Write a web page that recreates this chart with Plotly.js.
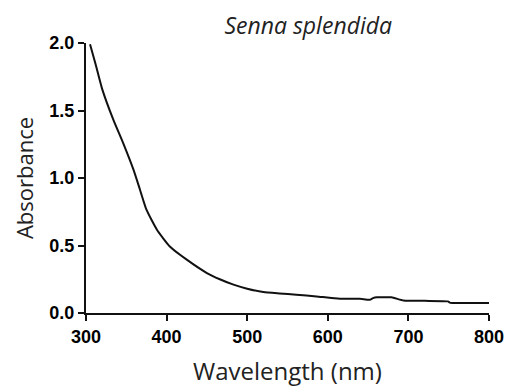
<!DOCTYPE html>
<html>
<head>
<meta charset="utf-8">
<script src="https://cdn.plot.ly/plotly-3.0.1.min.js"></script>
<style>html,body{margin:0;padding:0;background:#fff;}#chart{width:512px;height:392px;}</style>
</head>
<body>
<div id="chart"></div>
<script>
var wavelength = [305, 312, 320, 334, 346, 359, 367, 375, 388, 404, 425, 450, 466, 483, 500, 520, 540, 561, 586, 615, 640, 652, 656, 661, 679, 694, 720, 749, 752, 775, 800];
var absorbance = [1.99, 1.84, 1.66, 1.43, 1.26, 1.06, 0.913, 0.765, 0.617, 0.493, 0.395, 0.296, 0.25, 0.21, 0.18, 0.155, 0.145, 0.136, 0.123, 0.106, 0.105, 0.098, 0.11, 0.116, 0.116, 0.093, 0.09, 0.086, 0.075, 0.074, 0.074];
var xTicks = [300, 400, 500, 600, 700, 800];
var yTicks = [0, 0.5, 1, 1.5, 2];
var yTickText = ["0.0", "0.5", "1.0", "1.5", "2.0"];

var trace = {
  x: wavelength, y: absorbance, type: 'scatter', mode: 'lines',
  line: {color: '#111', width: 2, shape: 'spline', smoothing: 0.5}, hoverinfo: 'none'
};
var textFont = '"Open Sans", "Noto Sans", sans-serif';
var tickFont = '"Liberation Sans", Arial, sans-serif';
var layout = {
  width: 512, height: 392,
  margin: {l: 86, r: 23, t: 43, b: 79},
  paper_bgcolor: '#fff', plot_bgcolor: '#fff',
  showlegend: false,
  title: {text: '<i>Senna splendida</i>', x: 0.602, xanchor: 'center', y: 0.935, yanchor: 'middle',
          font: {family: textFont, size: 23, color: '#222'}},
  xaxis: {
    range: [300, 800], tickvals: xTicks, ticktext: xTicks.map(String),
    showgrid: false, zeroline: false, showline: true, linecolor: '#111', linewidth: 2,
    ticks: 'outside', ticklen: 6, tickwidth: 2, tickcolor: '#111',
    tickfont: {family: tickFont, size: 18, color: '#000', weight: 'bold'},
    title: {text: 'Wavelength (nm)', standoff: 18, font: {family: textFont, size: 24, color: '#222'}}
  },
  yaxis: {
    range: [0, 2], tickvals: yTicks, ticktext: yTickText,
    showgrid: false, zeroline: false, showline: true, linecolor: '#111', linewidth: 2,
    ticks: 'outside', ticklen: 6, tickwidth: 2, tickcolor: '#111',
    tickfont: {family: tickFont, size: 18, color: '#000', weight: 'bold'},
    title: {text: 'Absorbance', standoff: 10, font: {family: textFont, size: 22, color: '#222'}}
  }
};
Plotly.newPlot('chart', [trace], layout, {staticPlot: true, displayModeBar: false});
</script>
</body>
</html>
